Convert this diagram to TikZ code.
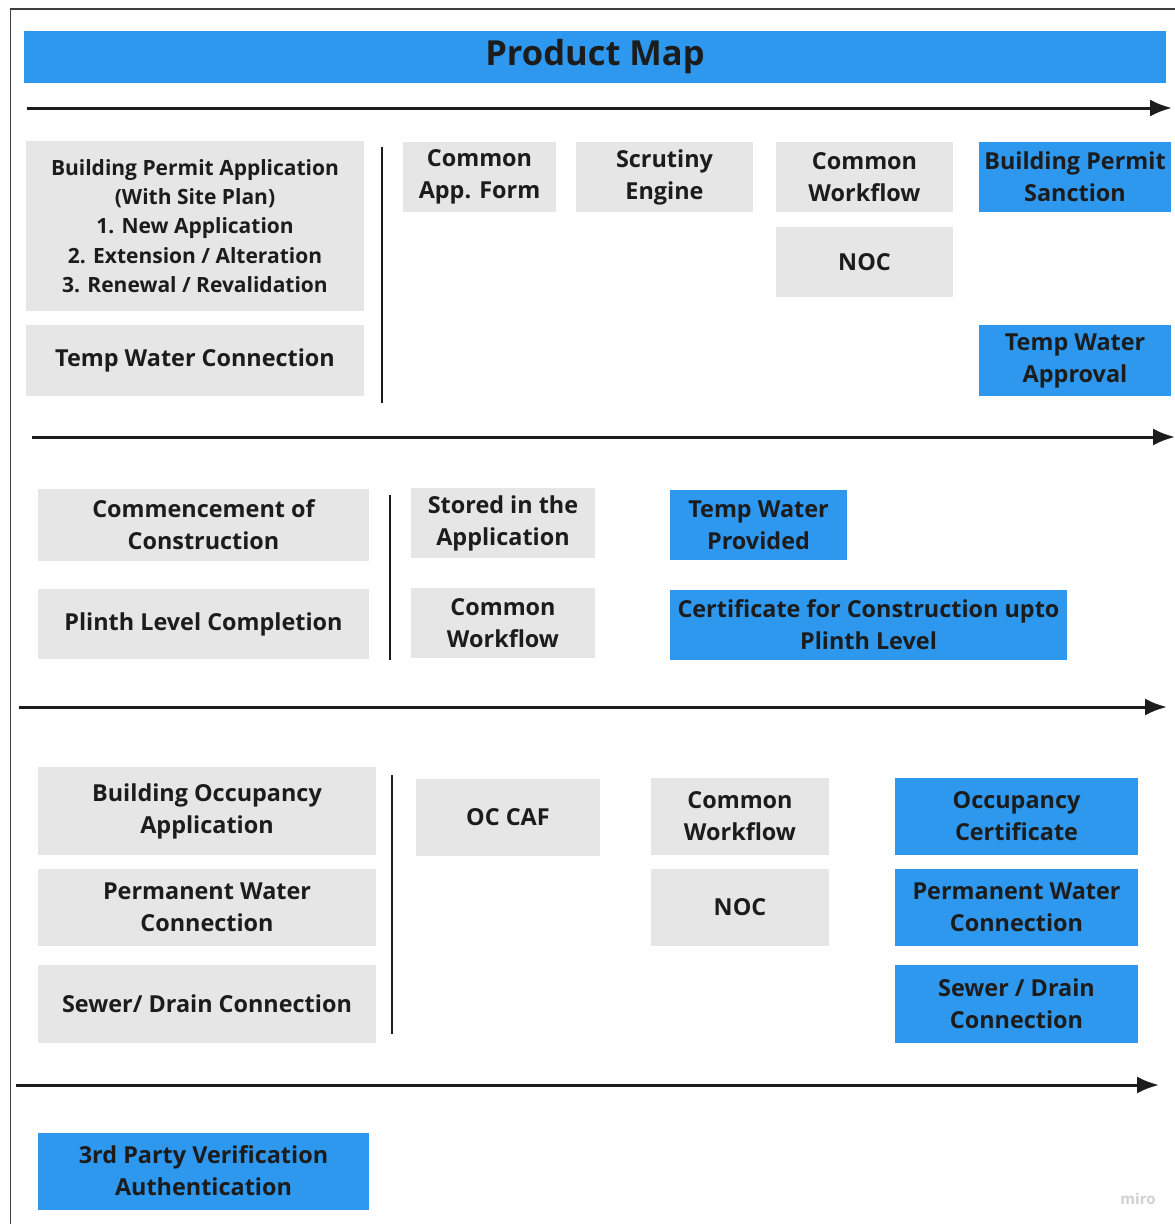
\documentclass[tikz,border=0pt]{standalone}
\usepackage{fontspec}
\setmainfont{Open Sans}
\usetikzlibrary{arrows.meta}
\definecolor{mapblue}{RGB}{45,152,238}
\definecolor{mapgray}{RGB}{230,230,230}
\definecolor{ink}{RGB}{28,28,28}
\tikzset{
  card/.style={draw=none, inner sep=0pt, align=center, text=ink,
    font=\fontsize{23.4}{32}\selectfont\bfseries},
  graycard/.style={card, fill=mapgray},
  bluecard/.style={card, fill=mapblue},
  stage/.style={line width=3pt, draw=ink, -{Latex[length=22pt,width=17pt]}},
  divider/.style={line width=2pt, draw=ink},
}
\begin{document}
\begin{tikzpicture}[x=1pt, y=-1pt]
\useasboundingbox[fill=white] (0,0) rectangle (1175,1224);
% outer frame
\draw[line width=1.2pt, draw=ink!85] (10.5,1224) -- (10.5,9) -- (1175,9);

% title bar
\node[bluecard, minimum width=1142pt, minimum height=52pt,
  font=\fontsize{34.5}{40}\selectfont\bfseries] (title) at (595,57) {Product Map};

% stage arrows
\coordinate (a1s) at (27,108);  \coordinate (a1e) at (1172,108);
\coordinate (a2s) at (32,437);  \coordinate (a2e) at (1175,437);
\coordinate (a3s) at (19,707);  \coordinate (a3e) at (1167,707);
\coordinate (a4s) at (16,1085); \coordinate (a4e) at (1159,1085);
\draw[stage] (a1s) -- (a1e);
\draw[stage] (a2s) -- (a2e);
\draw[stage] (a3s) -- (a3e);
\draw[stage] (a4s) -- (a4e);

% ---- stage 1: building permit ----
\node[graycard, minimum width=338pt, minimum height=170pt,
  font=\fontsize{21}{29.2}\selectfont\bfseries] (bpa) at (195,226)
  {Building Permit Application\\(With Site Plan)\\1. New Application\\2. Extension / Alteration\\3. Renewal / Revalidation};
\node[graycard, minimum width=338pt, minimum height=71pt] (twc) at (195,360.5) {Temp Water Connection};
\coordinate (d1t) at (382,147); \coordinate (d1b) at (382,403);
\draw[divider] (d1t) -- (d1b);
\node[graycard, minimum width=153pt, minimum height=70pt] (caf) at (479.5,177) {Common\\App. Form};
\node[graycard, minimum width=177pt, minimum height=70pt] (scr) at (664.5,177) {Scrutiny\\Engine};
\node[graycard, minimum width=177pt, minimum height=70pt] (cwf1) at (864.5,177) {Common\\Workflow};
\node[graycard, minimum width=177pt, minimum height=70pt] (noc1) at (864.5,262) {NOC};
\node[bluecard, minimum width=192pt, minimum height=70pt] (bps) at (1075,177) {Building Permit\\Sanction};
\node[bluecard, minimum width=192pt, minimum height=71pt] (twa) at (1075,360.5) {Temp Water\\Approval};

% ---- stage 2: construction ----
\node[graycard, minimum width=331pt, minimum height=72pt] (coc) at (203.5,525) {Commencement of\\Construction};
\node[graycard, minimum width=331pt, minimum height=70pt] (plc) at (203.5,624) {Plinth Level Completion};
\coordinate (d2t) at (390,495); \coordinate (d2b) at (390,660);
\draw[divider] (d2t) -- (d2b);
\node[graycard, minimum width=184pt, minimum height=70pt] (sta) at (503,523) {Stored in the\\Application};
\node[graycard, minimum width=184pt, minimum height=70pt] (cwf2) at (503,623) {Common\\Workflow};
\node[bluecard, minimum width=177pt, minimum height=70pt] (twp) at (758.5,525) {Temp Water\\Provided};
\node[bluecard, minimum width=397pt, minimum height=70pt] (ccp) at (868.5,625) {Certificate for Construction upto\\Plinth Level};

% ---- stage 3: occupancy ----
\node[graycard, minimum width=338pt, minimum height=88pt] (boa) at (207,811) {Building Occupancy\\Application};
\node[graycard, minimum width=338pt, minimum height=77pt] (pwc) at (207,907.5) {Permanent Water\\Connection};
\node[graycard, minimum width=338pt, minimum height=78pt] (sdc) at (207,1004) {Sewer/ Drain Connection};
\coordinate (d3t) at (392,775); \coordinate (d3b) at (392,1034);
\draw[divider] (d3t) -- (d3b);
\node[graycard, minimum width=184pt, minimum height=77pt] (occaf) at (508,817.5) {OC CAF};
\node[graycard, minimum width=178pt, minimum height=77pt] (cwf3) at (740,816.5) {Common\\Workflow};
\node[graycard, minimum width=178pt, minimum height=77pt] (noc3) at (740,907.5) {NOC};
\node[bluecard, minimum width=243pt, minimum height=77pt] (occ) at (1016.5,816.5) {Occupancy\\Certificate};
\node[bluecard, minimum width=243pt, minimum height=77pt] (pwcb) at (1016.5,907.5) {Permanent Water\\Connection};
\node[bluecard, minimum width=243pt, minimum height=78pt] (sdcb) at (1016.5,1004) {Sewer / Drain\\Connection};

% ---- stage 4: verification ----
\node[bluecard, minimum width=331pt, minimum height=77pt] (tpv) at (203.5,1171) {3rd Party Verification\\Authentication};

% board watermark
\node[text=black!18, font=\fontsize{15}{18}\selectfont\bfseries, inner sep=0pt] (wm) at (1138,1199) {miro};
\end{tikzpicture}
\end{document}
